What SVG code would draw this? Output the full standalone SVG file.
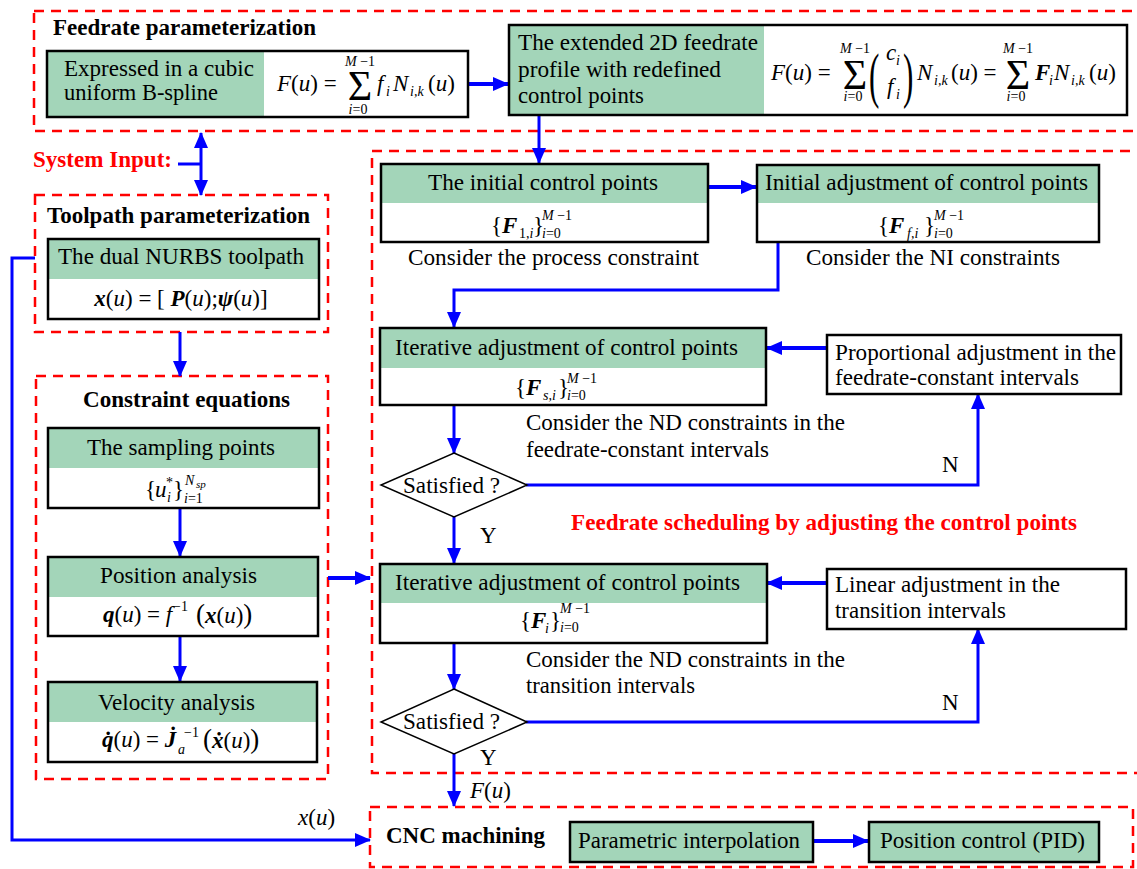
<svg xmlns="http://www.w3.org/2000/svg" width="1137" height="869" viewBox="0 0 1137 869">
<defs>
<style>
.dash{fill:none;stroke:#ff0000;stroke-width:2.5;stroke-dasharray:10 7}
.box{fill:none;stroke:#000;stroke-width:2.5}
.wf{fill:#fff}
.gf{fill:#a3d5b9}
.wire{fill:none;stroke:#0000ff;stroke-width:3}
.thick{stroke-width:4}
text{font-family:"Liberation Serif","Times New Roman",serif;font-size:23px;fill:#000}
.b{font-weight:bold}
.red{fill:#ff0000}
.i{font-style:italic}
.bi{font-style:italic;font-weight:bold}
.s{font-size:14px}
.xs{font-size:11px}
.sig{font-size:42px}
.par{font-size:62px}
.bp{font-size:27px}
.mid{text-anchor:middle}
</style>
<marker id="ah" markerWidth="16" markerHeight="14" refX="15" refY="7" orient="auto-start-reverse" markerUnits="userSpaceOnUse">
<path d="M0,0 L16,7 L0,14 z" fill="#0000ff"/>
</marker>
</defs>

<!-- dashed group frames -->
<g id="frames">
<rect class="dash" x="34" y="11" width="1110" height="120"/>
<rect class="dash" x="35" y="195" width="293" height="137"/>
<rect class="dash" x="36" y="376" width="292" height="403"/>
<rect class="dash" x="372" y="151" width="772" height="622"/>
<rect class="dash" x="370" y="807" width="763" height="60"/>
</g>

<g id="labels">
<text class="b" x="53" y="35" textLength="263" lengthAdjust="spacingAndGlyphs">Feedrate parameterization</text>
<text class="b red" x="33" y="167" textLength="139" lengthAdjust="spacingAndGlyphs">System Input:</text>
<text class="b" x="47" y="223" textLength="263" lengthAdjust="spacingAndGlyphs">Toolpath parameterization</text>
<text class="b" x="83" y="407" textLength="207" lengthAdjust="spacingAndGlyphs">Constraint equations</text>
<text class="b red" x="571" y="530" textLength="506" lengthAdjust="spacingAndGlyphs">Feedrate scheduling by adjusting the control points</text>
<text class="b" x="386" y="843" textLength="159" lengthAdjust="spacingAndGlyphs">CNC machining</text>
<text x="408" y="265" textLength="291" lengthAdjust="spacingAndGlyphs">Consider the process constraint</text>
<text x="806" y="265" textLength="254" lengthAdjust="spacingAndGlyphs">Consider the NI constraints</text>
<text x="526" y="430" textLength="319" lengthAdjust="spacingAndGlyphs">Consider the ND constraints in the</text>
<text x="526" y="457" textLength="243" lengthAdjust="spacingAndGlyphs">feedrate-constant intervals</text>
<text x="526" y="667" textLength="319" lengthAdjust="spacingAndGlyphs">Consider the ND constraints in the</text>
<text x="526" y="693" textLength="169" lengthAdjust="spacingAndGlyphs">transition intervals</text>
<text x="942" y="472">N</text>
<text x="480" y="543">Y</text>
<text x="942" y="710">N</text>
<text x="480" y="765">Y</text>
<text x="470" y="798"><tspan class="i">F</tspan>(<tspan class="i">u</tspan>)</text>
<text x="298" y="825"><tspan class="i">x</tspan>(<tspan class="i">u</tspan>)</text>
</g>

<!-- connectors -->
<g id="connectors">
<path class="wire thick" d="M468,84 H508" marker-end="url(#ah)"/>
<path class="wire" d="M178,164 H201"/>
<path class="wire" d="M201,133 V195" marker-start="url(#ah)" marker-end="url(#ah)"/>
<path class="wire" d="M539,115 V163" marker-end="url(#ah)"/>
<path class="wire" d="M35,258 H12 V840 H370" marker-end="url(#ah)"/>
<path class="wire" d="M180,332 V376" marker-end="url(#ah)"/>
<path class="wire" d="M180,508 V556" marker-end="url(#ah)"/>
<path class="wire" d="M180,636 V681" marker-end="url(#ah)"/>
<path class="wire thick" d="M328,578 H370" marker-end="url(#ah)"/>
<path class="wire thick" d="M708,187 H756" marker-end="url(#ah)"/>
<path class="wire" d="M778,242 V290 H454 V327" marker-end="url(#ah)"/>
<path class="wire thick" d="M827,348 H767" marker-end="url(#ah)"/>
<path class="wire" d="M454,405 V453" marker-end="url(#ah)"/>
<path class="wire" d="M526,485 H978 V394" marker-end="url(#ah)"/>
<path class="wire" d="M454,517 V563" marker-end="url(#ah)"/>
<path class="wire thick" d="M827,583 H767" marker-end="url(#ah)"/>
<path class="wire" d="M454,643 V689" marker-end="url(#ah)"/>
<path class="wire" d="M526,722 H978 V629" marker-end="url(#ah)"/>
<path class="wire" d="M454,754 V806" marker-end="url(#ah)"/>
<path class="wire thick" d="M813,841 H868" marker-end="url(#ah)"/>
</g>

<!-- Box 1 -->
<g id="n_bspline">
<rect class="wf" x="47" y="51" width="421" height="66"/>
<rect class="gf" x="47" y="51" width="217" height="66"/>
<rect class="box" x="47" y="51" width="421" height="66"/>
<text x="64" y="76" textLength="190" lengthAdjust="spacingAndGlyphs">Expressed in a cubic</text>
<text x="64" y="100" textLength="154" lengthAdjust="spacingAndGlyphs">uniform B-spline</text>
<text x="277" y="91"><tspan class="i">F</tspan>(<tspan class="i">u</tspan>) =</text>
<text class="sig mid" x="360" y="100">Σ</text>
<text class="s mid" x="360" y="66"><tspan class="i">M</tspan> −1</text>
<text class="s mid" x="358" y="114"><tspan class="i">i</tspan>=0</text>
<text class="i" x="377" y="91">f</text>
<text class="s i" x="386" y="96">i</text>
<text class="i" x="393" y="91">N</text>
<text class="s i" x="410" y="96">i,k</text>
<text x="428" y="91">(<tspan class="i">u</tspan>)</text>
</g>

<!-- Box 2 -->
<g id="n_extended">
<rect class="wf" x="509" y="25" width="618" height="90"/>
<rect class="gf" x="509" y="25" width="255" height="90"/>
<rect class="box" x="509" y="25" width="618" height="90"/>
<text x="518" y="50" textLength="240" lengthAdjust="spacingAndGlyphs">The extended 2D feedrate</text>
<text x="518" y="77" textLength="203" lengthAdjust="spacingAndGlyphs">profile with redefined</text>
<text x="518" y="103" textLength="126" lengthAdjust="spacingAndGlyphs">control points</text>
<text x="771" y="80"><tspan class="i">F</tspan>(<tspan class="i">u</tspan>) =</text>
<text class="sig mid" x="855" y="89">Σ</text>
<text class="s mid" x="855" y="53"><tspan class="i">M</tspan> −1</text>
<text class="s mid" x="853" y="101"><tspan class="i">i</tspan>=0</text>
<text class="par" transform="translate(869,96) scale(0.5,1)">(</text>
<text class="i" x="886" y="60">c</text>
<text class="s i" x="896" y="65">i</text>
<text class="i" x="887" y="94">f</text>
<text class="s i" x="896" y="99">i</text>
<text class="par" transform="translate(903,96) scale(0.5,1)">)</text>
<text class="i" x="917" y="80">N</text>
<text class="s i" x="934" y="85">i,k</text>
<text x="951" y="80">(<tspan class="i">u</tspan>) =</text>
<text class="sig mid" x="1018" y="89">Σ</text>
<text class="s mid" x="1018" y="53"><tspan class="i">M</tspan> −1</text>
<text class="s mid" x="1016" y="101"><tspan class="i">i</tspan>=0</text>
<text class="bi" x="1035" y="80">F</text>
<text class="s i" x="1049" y="85">i</text>
<text class="i" x="1054" y="80">N</text>
<text class="s i" x="1071" y="85">i,k</text>
<text x="1089" y="80">(<tspan class="i">u</tspan>)</text>
</g>

<!-- Toolpath -->
<g id="n_toolpath">
<rect class="wf" x="48" y="239" width="271" height="80"/>
<rect class="gf" x="48" y="239" width="271" height="40"/>
<rect class="box" x="48" y="239" width="271" height="80"/>
<text x="58" y="264" textLength="246" lengthAdjust="spacingAndGlyphs">The dual NURBS toolpath</text>
<text class="mid" x="181" y="306"><tspan class="bi">x</tspan>(<tspan class="i">u</tspan>) = [ <tspan class="bi">P</tspan>(<tspan class="i">u</tspan>);<tspan class="bi">ψ</tspan>(<tspan class="i">u</tspan>)]</text>
</g>

<!-- Sampling -->
<g id="n_sampling">
<rect class="wf" x="48" y="428" width="271" height="80"/>
<rect class="gf" x="48" y="428" width="271" height="40"/>
<rect class="box" x="48" y="428" width="271" height="80"/>
<text x="87" y="455" textLength="188" lengthAdjust="spacingAndGlyphs">The sampling points</text>
<text x="145" y="497">{</text>
<text class="i" x="155" y="497">u</text>
<text class="s" x="166" y="487">*</text>
<text class="s i" x="167" y="502">i</text>
<text x="173" y="497">}</text>
<text class="s i" x="185" y="485">N</text>
<text class="xs i" x="196" y="488">sp</text>
<text class="s" x="184" y="503"><tspan class="i">i</tspan>=1</text>
</g>

<!-- Position analysis -->
<g id="n_position">
<rect class="wf" x="48" y="557" width="270" height="79"/>
<rect class="gf" x="48" y="557" width="270" height="40"/>
<rect class="box" x="48" y="557" width="270" height="79"/>
<text x="100" y="583" textLength="157" lengthAdjust="spacingAndGlyphs">Position analysis</text>
<text x="103" y="622"><tspan class="bi">q</tspan>(<tspan class="i">u</tspan>) = <tspan class="i">f</tspan></text>
<text class="s" x="173" y="611">−1</text>
<text x="196" y="623"><tspan class="bp">(</tspan><tspan class="bi">x</tspan>(<tspan class="i">u</tspan>)<tspan class="bp">)</tspan></text>
</g>

<!-- Velocity analysis -->
<g id="n_velocity">
<rect class="wf" x="48" y="682" width="269" height="80"/>
<rect class="gf" x="48" y="682" width="269" height="40"/>
<rect class="box" x="48" y="682" width="269" height="80"/>
<text x="98" y="710" textLength="157" lengthAdjust="spacingAndGlyphs">Velocity analysis</text>
<text x="102" y="747"><tspan class="bi">q̇</tspan>(<tspan class="i">u</tspan>) = <tspan class="bi">J̇</tspan></text>
<text class="s i" x="178" y="754">a</text>
<text class="s" x="184" y="737">−1</text>
<text x="203" y="748"><tspan class="bp">(</tspan><tspan class="bi">ẋ</tspan>(<tspan class="i">u</tspan>)<tspan class="bp">)</tspan></text>
</g>

<!-- Initial control points -->
<g id="n_initial">
<rect class="wf" x="381" y="164" width="327" height="78"/>
<rect class="gf" x="381" y="164" width="327" height="39"/>
<rect class="box" x="381" y="164" width="327" height="78"/>
<text x="428" y="190" textLength="230" lengthAdjust="spacingAndGlyphs">The initial control points</text>
<text x="491" y="233">{</text>
<text class="bi" x="502" y="233">F</text>
<text class="s" x="519" y="238">1,<tspan class="i">i</tspan></text>
<text x="533" y="233">}</text>
<text class="s" x="542" y="220"><tspan class="i">M</tspan> −1</text>
<text class="s" x="542" y="238"><tspan class="i">i</tspan>=0</text>
</g>

<!-- Initial adjustment -->
<g id="n_initadj">
<rect class="wf" x="757" y="165" width="342" height="77"/>
<rect class="gf" x="757" y="165" width="342" height="38"/>
<rect class="box" x="757" y="165" width="342" height="77"/>
<text x="765" y="190" textLength="323" lengthAdjust="spacingAndGlyphs">Initial adjustment of control points</text>
<text x="878" y="233">{</text>
<text class="bi" x="889" y="233">F</text>
<text class="s i" x="907" y="238">f,i</text>
<text x="924" y="233">}</text>
<text class="s" x="934" y="220"><tspan class="i">M</tspan> −1</text>
<text class="s" x="934" y="238"><tspan class="i">i</tspan>=0</text>
</g>

<!-- Iterative 1 -->
<g id="n_iter1">
<rect class="wf" x="380" y="328" width="386" height="77"/>
<rect class="gf" x="380" y="328" width="386" height="40"/>
<rect class="box" x="380" y="328" width="386" height="77"/>
<text x="395" y="355" textLength="343" lengthAdjust="spacingAndGlyphs">Iterative adjustment of control points</text>
<text x="515" y="395">{</text>
<text class="bi" x="526" y="395">F</text>
<text class="s i" x="543" y="400">s,i</text>
<text x="558" y="395">}</text>
<text class="s" x="567" y="383"><tspan class="i">M</tspan> −1</text>
<text class="s" x="567" y="400"><tspan class="i">i</tspan>=0</text>
</g>

<!-- Proportional -->
<g id="n_prop">
<rect class="box wf" x="827" y="335" width="294" height="59"/>
<text x="835" y="360" textLength="281" lengthAdjust="spacingAndGlyphs">Proportional adjustment in the</text>
<text x="835" y="385" textLength="244" lengthAdjust="spacingAndGlyphs">feedrate-constant intervals</text>
</g>

<!-- Diamond 1 -->
<g id="n_sat1">
<polygon points="454,453 527,485 454,517 381,485" fill="#fff" stroke="#000" stroke-width="1.5"/>
<text x="403" y="493" textLength="97" lengthAdjust="spacingAndGlyphs">Satisfied ?</text>
</g>

<!-- Iterative 2 -->
<g id="n_iter2">
<rect class="wf" x="380" y="564" width="387" height="79"/>
<rect class="gf" x="380" y="564" width="387" height="39"/>
<rect class="box" x="380" y="564" width="387" height="79"/>
<text x="395" y="590" textLength="345" lengthAdjust="spacingAndGlyphs">Iterative adjustment of control points</text>
<text x="520" y="628">{</text>
<text class="bi" x="531" y="628">F</text>
<text class="s i" x="545" y="633">i</text>
<text x="550" y="628">}</text>
<text class="s" x="560" y="613"><tspan class="i">M</tspan> −1</text>
<text class="s" x="560" y="632"><tspan class="i">i</tspan>=0</text>
</g>

<!-- Linear -->
<g id="n_linear">
<rect class="box wf" x="827" y="569" width="299" height="60"/>
<text x="835" y="592" textLength="225" lengthAdjust="spacingAndGlyphs">Linear adjustment in the</text>
<text x="835" y="618" textLength="171" lengthAdjust="spacingAndGlyphs">transition intervals</text>
</g>

<!-- Diamond 2 -->
<g id="n_sat2">
<polygon points="454,689 527,722 454,754 381,722" fill="#fff" stroke="#000" stroke-width="1.5"/>
<text x="403" y="729" textLength="97" lengthAdjust="spacingAndGlyphs">Satisfied ?</text>
</g>

<!-- CNC boxes -->
<g id="n_interp">
<rect class="box gf" x="570" y="822" width="243" height="40"/>
<text x="578" y="848" textLength="222" lengthAdjust="spacingAndGlyphs">Parametric interpolation</text>
</g>
<g id="n_pid">
<rect class="box gf" x="869" y="822" width="230" height="40"/>
<text x="880" y="848" textLength="205" lengthAdjust="spacingAndGlyphs">Position control (PID)</text>
</g>
</svg>
